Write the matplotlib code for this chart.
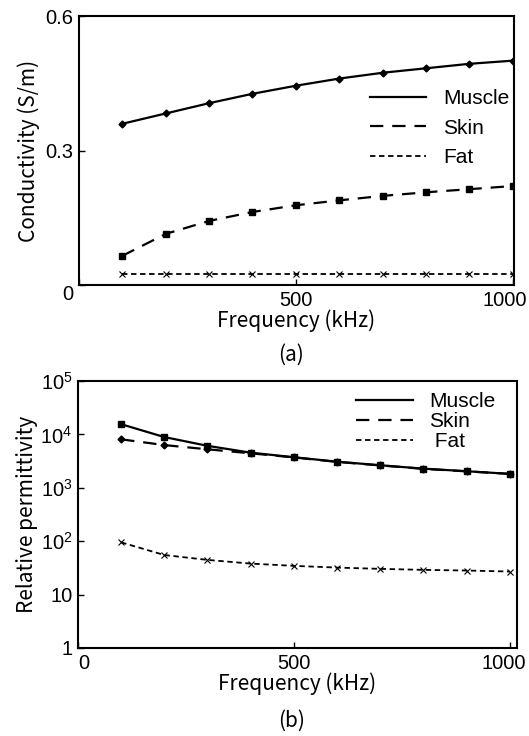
import matplotlib
matplotlib.use('Agg')
import matplotlib.pyplot as plt
import matplotlib.transforms as mtransforms
from matplotlib.lines import Line2D

# Datos
frecuencia = [100, 200, 300, 400, 500, 600, 700, 800, 900, 1000]

# (a) conductividad (S/m)
cond_muscle = [0.360, 0.383, 0.406, 0.427, 0.445, 0.461, 0.474, 0.484, 0.494, 0.501]
cond_skin = [0.065, 0.114, 0.143, 0.163, 0.178, 0.189, 0.199, 0.207, 0.214, 0.221]
cond_fat = [0.024, 0.024, 0.024, 0.024, 0.024, 0.024, 0.024, 0.024, 0.024, 0.024]

# (b) permitividad relativa
perm_muscle = [15500, 8900, 6100, 4540, 3730, 3080, 2640, 2280, 2040, 1820]
perm_skin = [8070, 6300, 5250, 4420, 3700, 3050, 2620, 2260, 2030, 1820]
perm_fat = [95, 55, 44.6, 38, 34.5, 32, 30.3, 29, 28.2, 27]

tejidos = ['Muscle', 'Skin', 'Fat']
yticks_b = [1, 10, 100, 1000, 10000, 100000]
yticklabels_b = ['1', '10', '$10^2$', '$10^3$', '$10^4$', '$10^5$']

fuente_tick = 'Liberation Sans'
fuente_label = ['Noto Sans CJK JP', 'DejaVu Sans']

plt.rcParams['mathtext.fontset'] = 'custom'
plt.rcParams['mathtext.rm'] = 'Liberation Sans'
plt.rcParams['mathtext.it'] = 'Liberation Sans:italic'

estilos = {
    'Muscle': dict(linestyle='-', color='black', linewidth=1.6),
    'Skin': dict(linestyle=(0, (6, 4)), color='black', linewidth=1.6),
    'Fat': dict(linestyle=(0, (3, 2)), color='black', linewidth=1.3),
}

fig = plt.figure(figsize=(5.29, 7.36), dpi=100)


def mover(lab, dx):
    # desplaza una etiqueta dx pixeles en horizontal
    lab.set_transform(lab.get_transform() + mtransforms.ScaledTranslation(dx / 100, 0, fig.dpi_scale_trans))


# ---------- (a) ----------
ax1 = fig.add_axes([0.149, 0.6128, 0.823, 0.365])
ax1.plot(frecuencia, cond_muscle, marker='D', markersize=3.5, **estilos['Muscle'])
ax1.plot(frecuencia, cond_skin, marker='s', markersize=4.5, **estilos['Skin'])
ax1.plot(frecuencia, cond_fat, marker='x', markersize=4.5, markeredgewidth=0.8, **estilos['Fat'])
ax1.set_xlim(0, 1003)
ax1.set_ylim(0, 0.6)
ax1.set_xticks([0, 500, 1000])
ax1.set_xticklabels(['', '500', '1000'])
ax1.set_yticks([0, 0.3, 0.6])
ax1.set_yticklabels(['0', '0.3', '0.6'])
ax1.get_yticklabels()[0].set_va('top')
ax1.set_xlabel('Frequency (kHz)', family=fuente_label, fontsize=15, labelpad=0)
ax1.set_ylabel('Conductivity (S/m)', family=fuente_label, fontsize=15, labelpad=4)

handles = [Line2D([], [], **estilos[t]) for t in tejidos]
ax1.legend(handles, tejidos, loc='upper left', bbox_to_anchor=(0.65, 0.76), frameon=False,
           prop={'family': fuente_tick, 'size': 15}, handlelength=2.7, labelspacing=0.5,
           handletextpad=0.8, borderaxespad=0)

# ---------- (b) ----------
ax2 = fig.add_axes([0.1474, 0.1196, 0.830, 0.3628])
ax2.plot(frecuencia, perm_muscle, marker='s', markersize=4.5, **estilos['Muscle'])
ax2.plot(frecuencia, perm_skin, marker='D', markersize=3.5, **estilos['Skin'])
ax2.plot(frecuencia, perm_fat, marker='x', markersize=4.5, markeredgewidth=0.8, **estilos['Fat'])
ax2.set_yscale('log')
ax2.set_xlim(0, 1017)
ax2.set_ylim(1, 1e5)
ax2.set_xticks([0, 500, 1000])
ax2.set_xticklabels(['0', '500', '1000'])
ax2.set_yticks(yticks_b)
ax2.set_yticklabels(yticklabels_b)
ax2.minorticks_off()
ax2.set_xlabel('Frequency (kHz)', family=fuente_label, fontsize=15, labelpad=0)
ax2.set_ylabel('Relative permittivity', family=fuente_label, fontsize=15, labelpad=2)

handles = [Line2D([], [], **estilos[t]) for t in tejidos]
ax2.legend(handles, ['Muscle', 'Skin', ' Fat'], loc='upper left', bbox_to_anchor=(0.615, 0.99),
           frameon=False, prop={'family': fuente_tick, 'size': 15}, handlelength=2.7,
           labelspacing=0.05, handletextpad=0.8, borderaxespad=0)

for ax in (ax1, ax2):
    for s in ax.spines.values():
        s.set_linewidth(1.5)
    ax.tick_params(direction='in', length=4, width=1, labelsize=14.5, pad=4)
    for lab in ax.get_xticklabels() + ax.get_yticklabels():
        lab.set_family(fuente_tick)

mover(ax1.get_xticklabels()[2], -8)
mover(ax2.get_xticklabels()[0], 6)
mover(ax2.get_xticklabels()[2], -6)

fig.text(0.551, 1 - 355 / 736, '(a)', ha='center', va='center', family=fuente_label, fontsize=15)
fig.text(0.551, 1 - 721 / 736, '(b)', ha='center', va='center', family=fuente_label, fontsize=15)

fig.savefig('out.png', dpi=100)
